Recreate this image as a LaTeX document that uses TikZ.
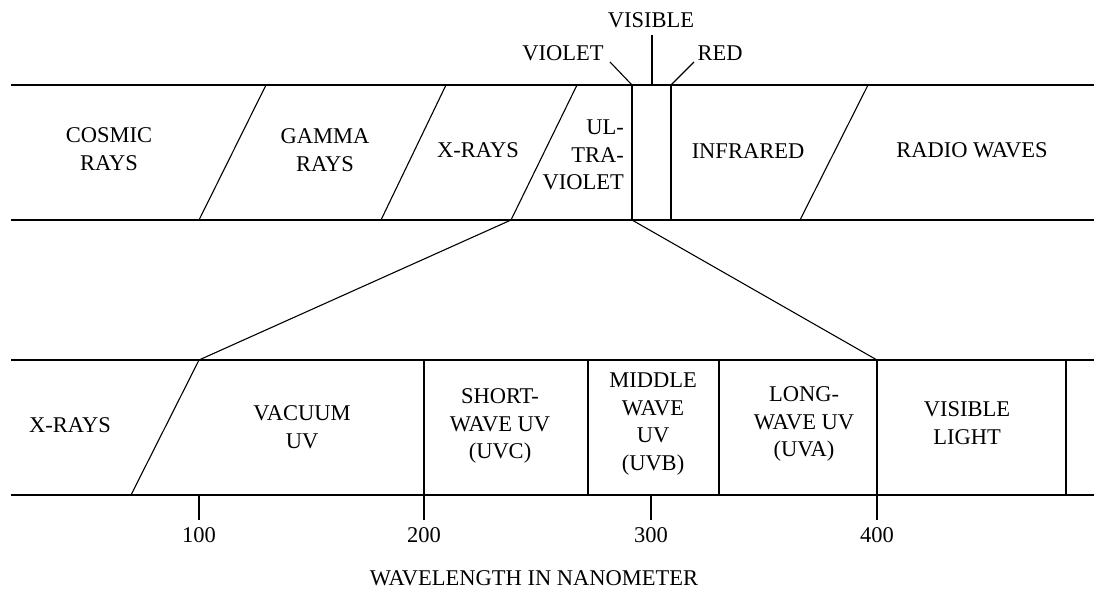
\documentclass[tikz,border=0pt]{standalone}
\usepackage{fontspec}
\setmainfont{Liberation Serif}
\begin{document}
\begin{tikzpicture}[x=1pt,y=-1pt,
  line/.style={draw=black,line width=1.1pt},
  lbl/.style={inner sep=0pt,align=center,font=\fontsize{22.5}{27.5}\selectfont},
  lblr/.style={inner sep=0pt,align=right,font=\fontsize{22.5}{27.5}\selectfont}]
\useasboundingbox (0,0) rectangle (1094,589);
% ---- top band coordinates
\coordinate (TL) at (11,85);   \coordinate (TR) at (1094,85);
\coordinate (BL) at (11,220);  \coordinate (BR) at (1094,220);
\coordinate (d1t) at (266,85); \coordinate (d1b) at (199,220);
\coordinate (d2t) at (446,85); \coordinate (d2b) at (381,220);
\coordinate (d3t) at (577,85); \coordinate (d3b) at (511,220);
\coordinate (d4t) at (632,85); \coordinate (d4b) at (632,220);
\coordinate (d5t) at (671,85); \coordinate (d5b) at (671,220);
\coordinate (d6t) at (868,85); \coordinate (d6b) at (800,220);
\coordinate (vis) at (652,85);
\coordinate (visT) at (652,35);
\coordinate (vioT) at (610,62);
\coordinate (redT) at (694,62);
% ---- bottom band coordinates
\coordinate (LTL) at (11,360);  \coordinate (LTR) at (1094,360);
\coordinate (LBL) at (11,495);  \coordinate (LBR) at (1094,495);
\coordinate (e1t) at (199,360); \coordinate (e1b) at (131,495);
\coordinate (e2t) at (424,360); \coordinate (e2b) at (424,520);
\coordinate (e3t) at (588,360); \coordinate (e3b) at (588,495);
\coordinate (e4t) at (719,360); \coordinate (e4b) at (719,495);
\coordinate (e5t) at (877,360); \coordinate (e5b) at (877,520);
\coordinate (e6t) at (1066,360); \coordinate (e6b) at (1066,495);
\coordinate (t1a) at (199,495); \coordinate (t1b) at (199,520);
\coordinate (t3a) at (651,495); \coordinate (t3b) at (651,520);
% ---- top band lines
\draw[line] (TL) -- (TR);
\draw[line] (BL) -- (BR);
\draw[line] (d1t) -- (d1b);
\draw[line] (d2t) -- (d2b);
\draw[line] (d3t) -- (d3b);
\draw[line] (d4t) -- (d4b);
\draw[line] (d5t) -- (d5b);
\draw[line] (d6t) -- (d6b);
\draw[line] (visT) -- (vis);
\draw[line] (vioT) -- (d4t);
\draw[line] (redT) -- (d5t);
% ---- zoom lines
\draw[line] (d3b) -- (e1t);
\draw[line] (d4b) -- (e5t);
% ---- bottom band lines
\draw[line] (LTL) -- (LTR);
\draw[line] (LBL) -- (LBR);
\draw[line] (e1t) -- (e1b);
\draw[line] (e2t) -- (e2b);
\draw[line] (e3t) -- (e3b);
\draw[line] (e4t) -- (e4b);
\draw[line] (e5t) -- (e5b);
\draw[line] (e6t) -- (e6b);
\draw[line] (t1a) -- (t1b);
\draw[line] (t3a) -- (t3b);
% ---- top labels
\node[lbl] (cosmic) at (109,149) {COSMIC\\RAYS};
\node[lbl] (gamma) at (325,150) {GAMMA\\RAYS};
\node[lbl] (xray1) at (478,150) {X-RAYS};
\node[lblr,anchor=east] (uv) at (624,155) {UL-\\TRA-\\VIOLET};
\node[lbl] (ir) at (748,151) {INFRARED};
\node[lbl] (radio) at (972,150) {RADIO WAVES};
\node[lbl] (visl) at (651,20) {VISIBLE};
\node[lbl] (viol) at (563,53) {VIOLET};
\node[lbl] (red) at (720,53) {RED};
% ---- bottom labels
\node[lbl] (xray2) at (70,425) {X-RAYS};
\node[lbl] (vuv) at (302,427) {VACUUM\\UV};
\node[lbl] (uvc) at (500,426) {SHORT-\\WAVE UV\\(UVC)};
\node[lbl] (uvb) at (653,424) {MIDDLE\\WAVE\\UV\\(UVB)};
\node[lbl] (uva) at (804,424) {LONG-\\WAVE UV\\(UVA)};
\node[lbl] (vislight) at (967,423) {VISIBLE\\LIGHT};
% ---- axis labels
\node[lbl] (n100) at (199,535) {100};
\node[lbl] (n200) at (424,535) {200};
\node[lbl] (n300) at (651,535) {300};
\node[lbl] (n400) at (877,535) {400};
\node[lbl,anchor=base] (axis) at (534,585) {WAVELENGTH IN NANOMETER};
\end{tikzpicture}
\end{document}
